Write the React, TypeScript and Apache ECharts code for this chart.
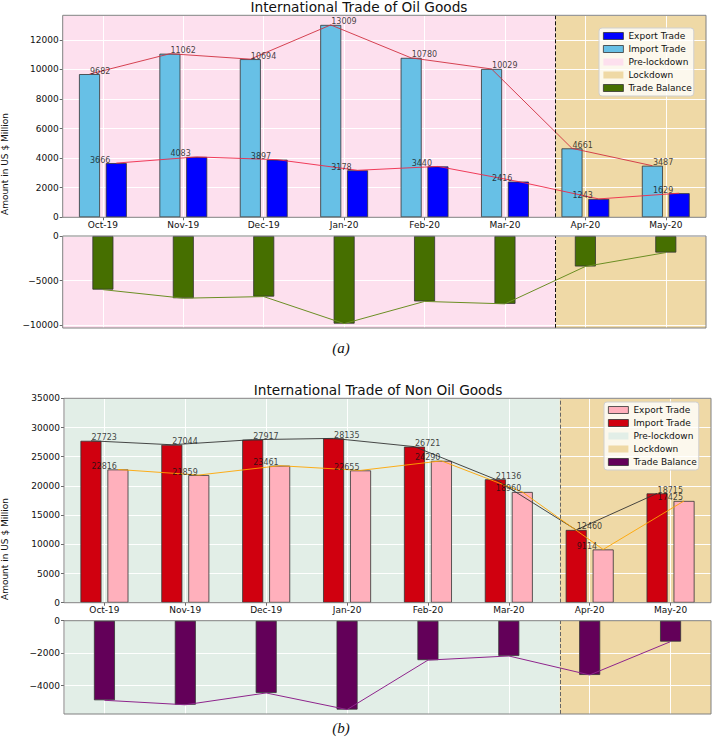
import React, { useEffect, useRef } from "react";
import * as echarts from "echarts";

const CATEGORIES = ["Oct-19", "Nov-19", "Dec-19", "Jan-20", "Feb-20", "Mar-20", "Apr-20", "May-20"];

const OIL_IMPORT = [9682, 11062, 10694, 13009, 10780, 10029, 4661, 3487];
const OIL_EXPORT = [3666, 4083, 3897, 3178, 3440, 2416, 1243, 1629];
const OIL_BALANCE = [-6016, -6979, -6797, -9831, -7340, -7613, -3418, -1858];

const NONOIL_IMPORT = [27723, 27044, 27917, 28135, 26721, 21136, 12460, 18715];
const NONOIL_EXPORT = [22816, 21859, 23461, 22655, 24290, 18960, 9114, 17425];
const NONOIL_BALANCE = [-4907, -5185, -4456, -5480, -2431, -2176, -3346, -1290];

const LOCKDOWN_START = 5.63;
const X_MIN = -0.5;
const X_MAX = 7.5;
const OFF = 1 / 6;

const FONT = "DejaVu Sans";

function fmtNum(v: number) {
  return v < 0 ? "\u2212" + Math.abs(v) : String(v);
}

function catLabel(v: number) {
  const i = Math.round(v);
  if (Math.abs(v - i) < 1e-6 && i >= 0 && i < CATEGORIES.length) return CATEGORIES[i];
  return "";
}

function makeOption(c: any) {
  const white = { show: true, lineStyle: { color: "rgba(255,255,255,0.95)", width: 1 } };
  const tick = { show: true, length: 3, lineStyle: { color: "#444", width: 0.8 } };
  const xAxis = (gi: number, showLabels: boolean) => ({
    type: "value",
    gridIndex: gi,
    position: "bottom",
    min: X_MIN,
    max: X_MAX,
    splitNumber: 8,
    z: 2,
    axisLine: { show: false, onZero: false },
    axisTick: { ...tick, show: showLabels },
    axisLabel: {
      show: showLabels,
      margin: 3,
      fontSize: 9,
      color: "#111",
      fontFamily: FONT,
      showMinLabel: false,
      showMaxLabel: false,
      formatter: (v: number) => catLabel(v),
    },
    splitLine: white,
  });
  const bgSeries = (gi: number) => [
    {
      type: "line",
      name: "Pre-lockdown",
      xAxisIndex: gi,
      yAxisIndex: gi,
      data: [],
      z: 0,
      itemStyle: { color: c.preColor },
      markArea: {
        silent: true,
        z: 0,
        label: { show: false },
        itemStyle: { color: c.preColor },
        data: [[{ xAxis: X_MIN }, { xAxis: LOCKDOWN_START }]],
      },
    },
    {
      type: "line",
      name: "Lockdown",
      xAxisIndex: gi,
      yAxisIndex: gi,
      data: [],
      z: 0,
      itemStyle: { color: c.lockColor },
      markArea: {
        silent: true,
        z: 0,
        label: { show: false },
        itemStyle: { color: c.lockColor },
        data: [[{ xAxis: LOCKDOWN_START }, { xAxis: X_MAX }]],
      },
      markLine: {
        silent: true,
        z: 5,
        symbol: ["none", "none"],
        label: { show: false },
        lineStyle: { type: [4, 2], color: c.dashColor, width: 1 },
        data: [{ xAxis: LOCKDOWN_START }],
      },
    },
  ];
  const edge = { borderColor: "#333", borderWidth: 0.8 };
  const labelSeries = (name: string, vals: number[]) => ({
    type: "scatter",
    name,
    xAxisIndex: 0,
    yAxisIndex: 0,
    z: 7,
    symbolSize: 1,
    itemStyle: { color: "rgba(0,0,0,0)" },
    label: {
      show: true,
      position: "right",
      distance: 0,
      offset: [0, -3],
      fontSize: 8,
      color: "#111",
      fontFamily: FONT,
      formatter: (p: any) => String(p.value[1]),
    },
    data: vals.map((v, i) => [i - OFF, v]),
  });
  const yAxisBase = {
    type: "value",
    position: "left",
    z: 2,
    axisLine: { show: false, onZero: false },
    axisTick: tick,
    splitLine: white,
  };

  return {
    animation: false,
    grid: [
      { left: c.left, right: c.right, top: c.top1, height: c.h1, show: true, borderColor: "#808080", borderWidth: 1, backgroundColor: "transparent", z: 6 },
      { left: c.left, right: c.right, top: c.top2, height: c.h2, show: true, borderColor: "#808080", borderWidth: 1, backgroundColor: "transparent", z: 6 },
    ],
    xAxis: [xAxis(0, true), xAxis(1, false)],
    yAxis: [
      {
        ...yAxisBase,
        gridIndex: 0,
        min: 0,
        max: c.yMax,
        interval: c.yInterval,
        axisLabel: { fontSize: 9, margin: 4, color: "#111", fontFamily: FONT, showMaxLabel: c.showMaxLabel, formatter: fmtNum },
      },
      {
        ...yAxisBase,
        gridIndex: 1,
        min: c.balMin,
        max: 0,
        splitNumber: c.balSplit,
        axisLabel: { fontSize: 9, margin: 4, color: "#111", fontFamily: FONT, showMinLabel: false, formatter: fmtNum },
      },
    ],
    legend: {
      orient: "vertical",
      left: c.legendLeft,
      top: c.legendTop,
      icon: "rect",
      itemWidth: 20,
      itemHeight: 7,
      itemGap: 3,
      padding: [3, 2, 3, 4],
      backgroundColor: "rgba(255,255,255,0.8)",
      borderColor: "#d0d0d0",
      borderWidth: 1,
      borderRadius: 3,
      selectedMode: false,
      z: 8,
      textStyle: { fontSize: 9, lineHeight: 10, color: "#111", fontFamily: FONT },
      data: [
        { name: "Export Trade", itemStyle: { color: c.expColor, ...edge } },
        { name: "Import Trade", itemStyle: { color: c.impColor, ...edge } },
        { name: "Pre-lockdown", itemStyle: { color: c.preColor, borderWidth: 0 } },
        { name: "Lockdown", itemStyle: { color: c.lockColor, borderWidth: 0 } },
        { name: "Trade Balance", itemStyle: { color: c.balColor, ...edge } },
      ],
    },
    graphic: [
      {
        type: "text",
        x: c.titleX,
        y: c.titleY,
        style: { text: c.title, fontSize: 13.7, fontFamily: FONT, fill: "#111", align: "center", verticalAlign: "middle" },
      },
      {
        type: "text",
        x: 5,
        y: c.yNameY,
        rotation: Math.PI / 2,
        style: { text: "Amount in US $ Million", fontSize: 9, fontFamily: FONT, fill: "#111", align: "center", verticalAlign: "middle" },
      },
      {
        type: "text",
        x: c.captionX,
        y: c.captionY,
        style: { text: c.caption, fontSize: 15, fontStyle: "italic", fontFamily: "Liberation Serif", fill: "#111", align: "center", verticalAlign: "middle" },
      },
    ],
    series: [
      ...bgSeries(0),
      ...bgSeries(1),
      {
        type: "bar",
        name: "Import Trade",
        xAxisIndex: 0,
        yAxisIndex: 0,
        barWidth: 21,
        barGap: "-100%",
        z: 3,
        itemStyle: { color: c.impColor, ...edge },
        data: c.imp.map((v: number, i: number) => [i - OFF, v]),
      },
      {
        type: "bar",
        name: "Export Trade",
        xAxisIndex: 0,
        yAxisIndex: 0,
        barWidth: 21,
        barGap: "-100%",
        z: 3,
        itemStyle: { color: c.expColor, ...edge },
        data: c.exp.map((v: number, i: number) => [i + OFF, v]),
      },
      {
        type: "line",
        name: "imp-line",
        xAxisIndex: 0,
        yAxisIndex: 0,
        z: 4,
        symbol: "none",
        lineStyle: { color: c.impLine, width: 0.9 },
        data: c.imp.map((v: number, i: number) => [i - OFF, v]),
      },
      {
        type: "line",
        name: "exp-line",
        xAxisIndex: 0,
        yAxisIndex: 0,
        z: 4,
        symbol: "none",
        lineStyle: { color: c.expLine, width: 0.9 },
        data: c.exp.map((v: number, i: number) => [i + OFF, v]),
      },
      labelSeries("imp-label", c.imp),
      labelSeries("exp-label", c.exp),
      {
        type: "bar",
        name: "Trade Balance",
        xAxisIndex: 1,
        yAxisIndex: 1,
        barWidth: 21,
        z: 3,
        itemStyle: { color: c.balColor, ...edge },
        data: c.bal.map((v: number, i: number) => [i, v]),
      },
      {
        type: "line",
        name: "bal-line",
        xAxisIndex: 1,
        yAxisIndex: 1,
        z: 4,
        symbol: "none",
        lineStyle: { color: c.balLine, width: 1 },
        data: c.bal.map((v: number, i: number) => [i, v]),
      },
    ],
  };
}

const TOP_CFG = {
  title: "International Trade of Oil Goods",
  titleX: 359,
  titleY: 6.5,
  caption: "(a)",
  captionX: 341,
  captionY: 348,
  left: 62.7,
  right: 6,
  top1: 15.3,
  h1: 202,
  top2: 236,
  h2: 92,
  yNameY: 164,
  imp: OIL_IMPORT,
  exp: OIL_EXPORT,
  bal: OIL_BALANCE,
  impColor: "#67c0e6",
  expColor: "#0000ff",
  balColor: "#466f00",
  impLine: "#d0303f",
  expLine: "#ee2848",
  balLine: "#6b8e23",
  preColor: "#fde0ee",
  lockColor: "#efd9a6",
  dashColor: "#111",
  yMax: 13659,
  yInterval: 2000,
  showMaxLabel: false,
  balMin: -10322,
  balSplit: 2,
  legendLeft: 599,
  legendTop: 28,
};

const BOTTOM_CFG = {
  title: "International Trade of Non Oil Goods",
  titleX: 378,
  titleY: 18.5,
  caption: "(b)",
  captionX: 341,
  captionY: 357,
  left: 64,
  right: 1,
  top1: 27.3,
  h1: 204.4,
  top2: 249.7,
  h2: 93.3,
  yNameY: 178,
  imp: NONOIL_IMPORT,
  exp: NONOIL_EXPORT,
  bal: NONOIL_BALANCE,
  impColor: "#d0000f",
  expColor: "#ffb0bc",
  balColor: "#630059",
  impLine: "#333333",
  expLine: "#ffa500",
  balLine: "#8e248c",
  preColor: "#e2eee7",
  lockColor: "#efd9a6",
  dashColor: "#666",
  yMax: 35000,
  yInterval: 5000,
  showMaxLabel: true,
  balMin: -5754,
  balSplit: 3,
  legendLeft: 604,
  legendTop: 31,
};

export default function App() {
  const ref1 = useRef<HTMLDivElement>(null);
  const ref2 = useRef<HTMLDivElement>(null);
  useEffect(() => {
    const c1 = echarts.init(ref1.current!, null, { renderer: "svg" });
    const c2 = echarts.init(ref2.current!, null, { renderer: "svg" });
    c1.setOption(makeOption(TOP_CFG) as any);
    c2.setOption(makeOption(BOTTOM_CFG) as any);
    return () => {
      c1.dispose();
      c2.dispose();
    };
  }, []);
  return (
    <div style={{ position: "fixed", left: 0, top: 0, width: 712, height: 742, background: "#fff" }}>
      <div ref={ref1} style={{ position: "absolute", left: 0, top: 0, width: 712, height: 371 }} />
      <div ref={ref2} style={{ position: "absolute", left: 0, top: 371, width: 712, height: 371 }} />
    </div>
  );
}
